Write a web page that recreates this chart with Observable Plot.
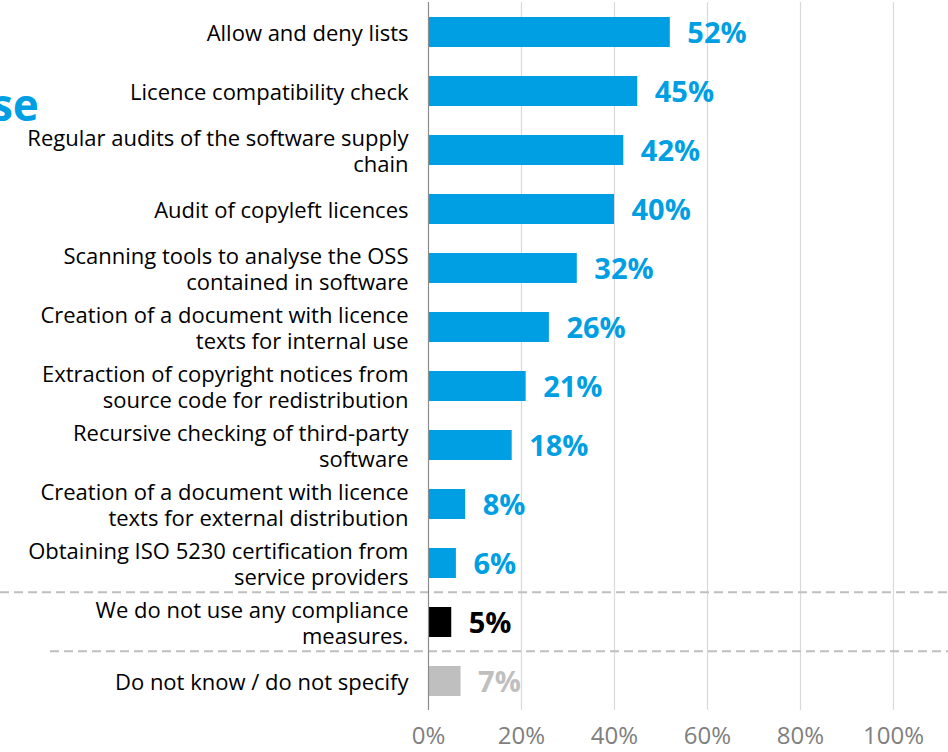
<!DOCTYPE html>
<html><head><meta charset="utf-8">
<script src="https://cdn.jsdelivr.net/npm/d3@7"></script>
<script src="https://cdn.jsdelivr.net/npm/@observablehq/plot@0.6"></script>
<style>
body{margin:0;background:#fff;font-family:"Open Sans",sans-serif;overflow:hidden}
#wrap{position:relative;width:948px;height:752px;overflow:hidden}
#frag{position:absolute;left:-9px;top:82px;font:bold 44px/1 "Open Sans",sans-serif;color:#009FE3}
</style>
</head><body><div id="wrap"><div id="frag">se</div><div id="chart"></div></div>
<script>
const categories = [
  "Allow and deny lists",
  "Licence compatibility check",
  "Regular audits of the software supply\nchain",
  "Audit of copyleft licences",
  "Scanning tools to analyse the OSS\ncontained in software",
  "Creation of a document with licence\ntexts for internal use",
  "Extraction of copyright notices from\nsource code for redistribution",
  "Recursive checking of third-party\nsoftware",
  "Creation of a document with licence\ntexts for external distribution",
  "Obtaining ISO 5230 certification from\nservice providers",
  "We do not use any compliance\nmeasures.",
  "Do not know / do not specify"
];
const values = [52, 45, 42, 40, 32, 26, 21, 18, 8, 6, 5, 7];
const groups = ["measure","measure","measure","measure","measure","measure","measure","measure","measure","measure","none","unknown"];
const groupNames = ["measure", "none", "unknown"];
const groupColors = ["#009FE3", "#000000", "#BFBFBF"];
const xTicks = [0, 20, 40, 60, 80, 100];
const separatorsBefore = [categories[10], categories[11]];

const data = categories.map((c, i) => ({label: c, value: values[i], group: groups[i]}));

const separatorMark = Plot.ruleY(separatorsBefore, {
  y: d => d,
  render(index, scales, values, dimensions) {
    const n = categories.length;
    const step = (dimensions.height - dimensions.marginTop - dimensions.marginBottom) / n;
    const g = d3.create("svg:g");
    index.forEach((i, k) => {
      const yy = scales.y(separatorsBefore[i]) - step * 0.25;
      g.append("line")
        .attr("x1", k === 0 ? 0 : 50)
        .attr("x2", dimensions.width)
        .attr("y1", yy).attr("y2", yy)
        .attr("stroke", "#BFBFBF")
        .attr("stroke-width", 2)
        .attr("stroke-dasharray", "9,5");
    });
    return g.node();
  }
});

const chart = Plot.plot({
  width: 948,
  height: 752,
  marginLeft: 428,
  marginRight: 55,
  marginTop: 2,
  marginBottom: 42,
  style: {fontFamily: "'Open Sans', sans-serif", background: "#fff"},
  x: {domain: [0, 100]},
  y: {domain: categories, paddingInner: 0.5, paddingOuter: 0.25},
  color: {domain: groupNames, range: groupColors},
  marks: [
    Plot.ruleX(xTicks.filter(t => t > 0), {stroke: "#D9D9D9", strokeWidth: 1.2}),
    separatorMark,
    Plot.barX(data, {x: "value", y: "label", fill: "group"}),
    Plot.ruleX([0], {stroke: "#8C8C8C", strokeWidth: 1.2}),
    Plot.text(data, {
      x: "value", y: "label", text: d => d.value + "%",
      dx: 17, dy: 1, textAnchor: "start", fontWeight: "bold", fontSize: 29,
      fill: "group"
    }),
    Plot.axisY({tickSize: 0, tickPadding: 20, fontSize: 22, fill: "#000", label: null, lineHeight: 1.2, textOverflow: null}),
    Plot.axisX({ticks: xTicks, tickFormat: d => d + "%", tickSize: 0, tickPadding: 16, fontSize: 24, fill: "#808080", label: null})
  ]
});
document.getElementById("chart").appendChild(chart);
</script>
</body></html>
